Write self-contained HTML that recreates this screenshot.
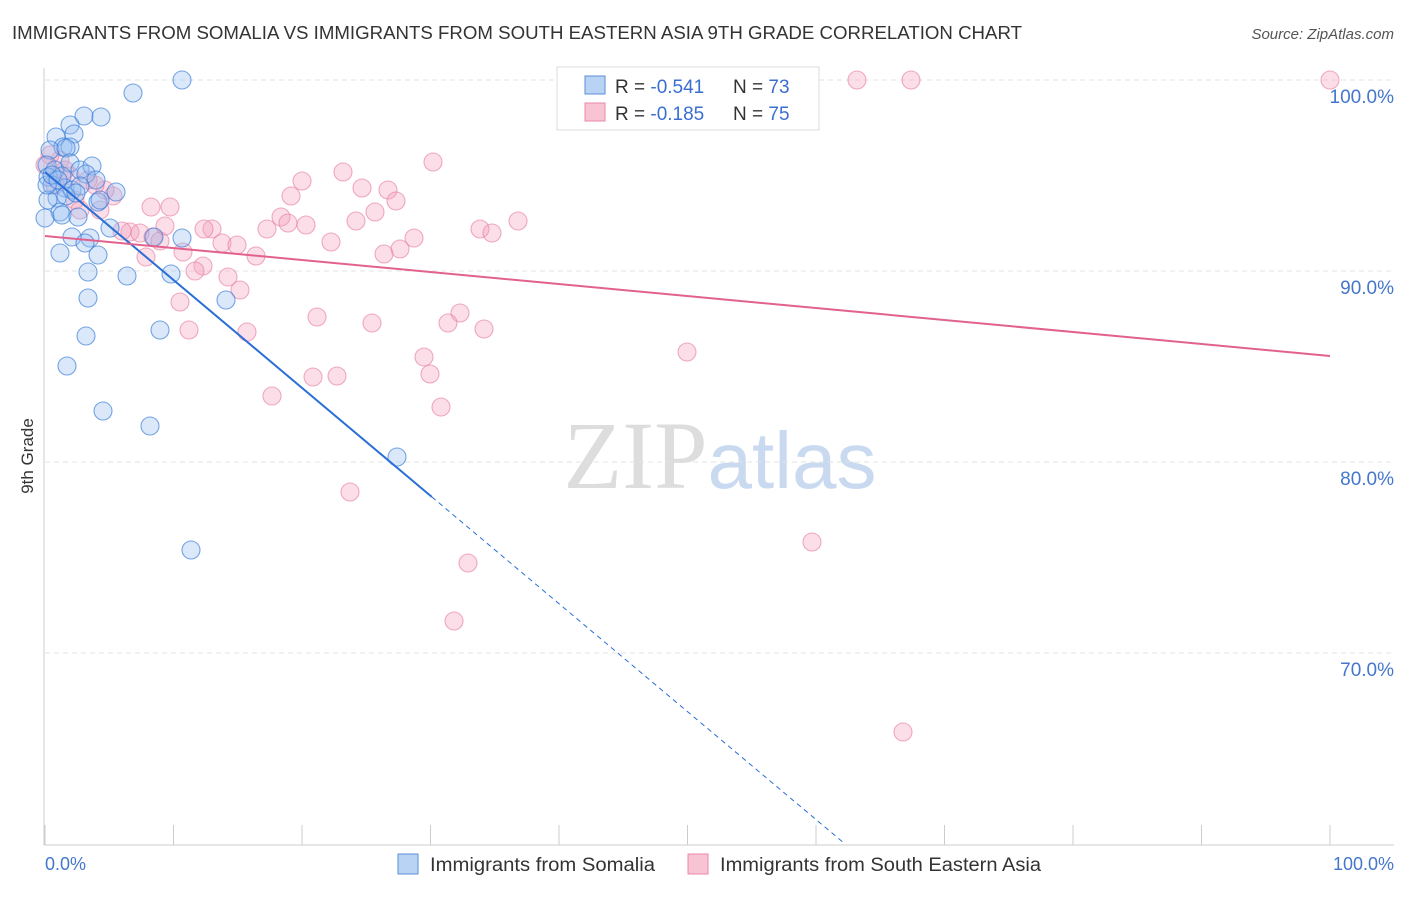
<!DOCTYPE html>
<html><head><meta charset="utf-8"><style>
body{margin:0;background:#fff;font-family:"Liberation Sans",sans-serif;}
</style></head><body>
<svg width="1406" height="892" xmlns="http://www.w3.org/2000/svg" font-family="Liberation Sans, sans-serif">
<text x="12" y="39" font-size="18" fill="#333" textLength="1010" lengthAdjust="spacingAndGlyphs">IMMIGRANTS FROM SOMALIA VS IMMIGRANTS FROM SOUTH EASTERN ASIA 9TH GRADE CORRELATION CHART</text>
<text x="1394" y="39" font-size="15" fill="#555" font-style="italic" text-anchor="end">Source: ZipAtlas.com</text>
<text x="720" y="488" font-size="96" text-anchor="middle"><tspan fill="#ddd" font-family="Liberation Serif">ZIP</tspan><tspan fill="#c9daf0" font-size="80">atlas</tspan></text>
<g id="grid"></g>
<line x1="44" y1="68" x2="44" y2="845" stroke="#ccc"/>
<line x1="44" y1="845" x2="1394" y2="845" stroke="#ccc"/>
<text transform="translate(33,456) rotate(-90)" font-size="17" fill="#333" text-anchor="middle">9th Grade</text>
<text x="45" y="870" font-size="18" fill="#4477cc">0.0%</text>
<text x="1394" y="870" font-size="18" fill="#4477cc" text-anchor="end">100.0%</text>
<g id="pts"></g>
<g id="lines"></g>
<g>
<rect x="557" y="67" width="262" height="63" fill="#fff" stroke="#ddd"/>
<rect x="585" y="76" width="20" height="18" fill="#b9d3f5" stroke="#5b8fd8"/>
<rect x="585" y="103" width="20" height="18" fill="#f8c4d4" stroke="#e88aa8"/>
<text x="615" y="93" font-size="19" fill="#333">R = <tspan fill="#3a6fd0">-0.541</tspan></text>
<text x="733" y="93" font-size="19" fill="#333">N = <tspan fill="#3a6fd0">73</tspan></text>
<text x="615" y="120" font-size="19" fill="#333">R = <tspan fill="#3a6fd0">-0.185</tspan></text>
<text x="733" y="120" font-size="19" fill="#333">N = <tspan fill="#3a6fd0">75</tspan></text>
</g>
<g>
<rect x="398" y="854" width="20" height="20" fill="#b9d3f5" stroke="#5b8fd8"/>
<text x="430" y="871" font-size="19" fill="#333" textLength="225" lengthAdjust="spacingAndGlyphs">Immigrants from Somalia</text>
<rect x="688" y="854" width="20" height="20" fill="#f8c4d4" stroke="#e88aa8"/>
<text x="720" y="871" font-size="19" fill="#333" textLength="321" lengthAdjust="spacingAndGlyphs">Immigrants from South Eastern Asia</text>
</g>
</svg>
<script>
const yTicks=[100,90,80,70];
const blueX=[182,133,84,101,70,56,74,63,70,50,66,47,55,70,80,92,48,62,86,96,52,65,72,80,116,57,66,48,76,98,60,62,78,100,45,110,72,90,85,154,182,98,60,88,127,171,88,226,160,86,67,103,150,397,191,47,52,58].map(p=>(p-45)/12.85);
const blueY=[80,93,116,117,125,137,134,147,147,150,148,165,170,163,170,166,177,176,174,180,185,188,190,186,192,198,196,200,193,202,212,215,217,200,218,228,237,238,243,237,238,255,253,272,276,274,298,300,330,336,366,411,426,457,550,185,175,180].map(p=>100-(p-80)/19.1);
const pinkX=[857,911,1330,433,343,302,362,388,291,396,375,356,518,281,288,306,480,492,414,331,400,384,267,212,204,130,122,153,160,140,222,237,183,146,256,203,195,228,240,180,189,247,317,372,460,448,484,424,430,313,337,272,441,687,350,812,468,454,903,151,170,165,113,105,95,70,60,50,55,65,88,75,100,45,80].map(p=>(p-45)/12.85);
const pinkY=[80,80,80,162,172,181,188,190,196,201,212,221,221,217,223,225,229,233,238,242,249,254,229,229,229,232,231,237,241,233,243,245,252,257,256,266,271,277,290,302,330,332,317,323,313,323,329,357,374,377,376,396,407,352,492,542,563,621,732,207,207,226,196,190,185,176,160,155,185,170,180,200,210,165,210].map(p=>100-(p-80)/19.1);
const blueLine=[95.18,-0.565];
const pinkLine=[91.83,85.55];
const sx=v=>45+v*12.85, sy=v=>80+(100-v)*19.1;
const NS='http://www.w3.org/2000/svg';
function mk(t,a,parent){const e=document.createElementNS(NS,t);for(const k in a)e.setAttribute(k,a[k]);document.getElementById(parent).appendChild(e);return e;}
yTicks.forEach(t=>{
 const l=mk('line',{x1:45,x2:1394,y1:sy(t),y2:sy(t),stroke:'#e3e3e3','stroke-dasharray':'5,4'},'grid');
 
 
 const tx=mk('text',{x:1394,y:sy(t)+23,'font-size':19,fill:'#4477cc','text-anchor':'end'},'grid');
 tx.textContent=t.toFixed(1)+'%';
 
 
});
for(let i=0;i<=10;i++){const l=mk('line',{x1:sx(i*10),x2:sx(i*10),y1:825,y2:845,stroke:'#ccc'},'grid');
 
 }
pinkX.forEach((x,i)=>{const c=mk('circle',{cx:sx(x),cy:sy(pinkY[i]),r:9,fill:'rgba(244,160,188,0.35)',stroke:'rgba(230,120,155,0.6)','stroke-width':1.1},'pts');
 
 });
blueX.forEach((x,i)=>{const c=mk('circle',{cx:sx(x),cy:sy(blueY[i]),r:9,fill:'rgba(150,190,240,0.35)',stroke:'rgba(50,120,215,0.65)','stroke-width':1.1},'pts');
 
 });
const bx1=30.1, bx2=(95.18-60)/0.565;
let l=mk('line',{x1:sx(0),y1:sy(blueLine[0]),x2:sx(bx1),y2:sy(blueLine[0]+blueLine[1]*bx1),stroke:'#2a6fd6','stroke-width':2},'lines');


l=mk('line',{x1:sx(bx1),y1:sy(blueLine[0]+blueLine[1]*bx1),x2:sx(bx2),y2:sy(60),stroke:'#2a6fd6','stroke-width':1,'stroke-dasharray':'5,4'},'lines');


l=mk('line',{x1:sx(0),y1:sy(pinkLine[0]),x2:sx(100),y2:sy(pinkLine[1]),stroke:'#e2618e','stroke-width':2},'lines');


</script>
</body></html>
